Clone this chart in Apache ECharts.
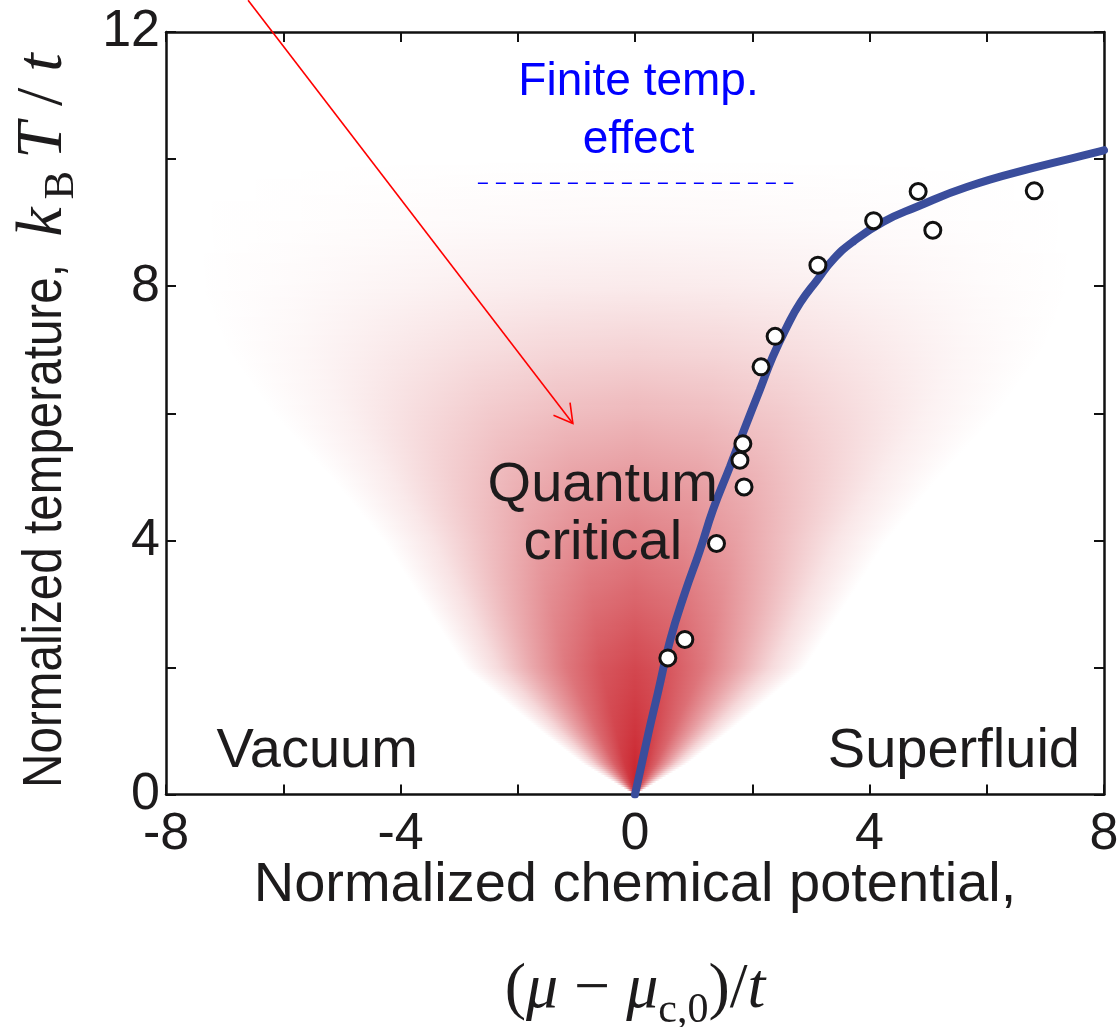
<!DOCTYPE html>
<html>
<head>
<meta charset="utf-8">
<script src="https://cdn.jsdelivr.net/npm/echarts@6/dist/echarts.min.js"></script>
<style>
  html, body { margin: 0; padding: 0; background: #ffffff; }
  #chart { width: 1118px; height: 1027px; }
</style>
</head>
<body>
<div id="chart"></div>
<script>
// Measured transition points (normalized chemical potential, normalized temperature)
const pointMu = [0.56, 0.85, 1.39, 1.86, 1.79, 1.84, 2.15, 2.39, 3.12, 4.07, 4.83, 5.08, 6.81];
const pointT  = [2.15, 2.44, 3.95, 4.84, 5.26, 5.52, 6.73, 7.21, 8.33, 9.03, 9.49, 8.88, 9.50];

// Phase boundary curve
const curveMu = [0, 0.23, 0.39, 0.60, 0.85, 1.11, 1.33, 1.62, 1.84, 2.13, 2.35, 2.59, 2.82, 3.11, 3.38, 3.72, 4.23, 4.81, 5.66, 6.79, 7.93, 8.0];
const curveT  = [0, 0.97, 1.60, 2.43, 3.17, 3.85, 4.48, 5.16, 5.69, 6.37, 6.89, 7.36, 7.74, 8.10, 8.42, 8.70, 9.01, 9.25, 9.56, 9.86, 10.12, 10.14];

// Quantum critical fan: outer half-width and centre opacity versus temperature,
// plus the sideways fall-off of the shading across the fan
const fanT            = [0, 0.5, 1, 2, 3, 4, 5, 6, 7, 8, 9, 10];
const fanHalfWidth    = [0, 0.9, 1.6, 2.9, 3.6, 4.3, 5.2, 6.2, 7.0, 7.5, 7.6, 7.6];
const fanCenterAlpha  = [0.97, 0.93, 0.88, 0.8, 0.68, 0.56, 0.44, 0.31, 0.19, 0.09, 0.03, 0];
const fanSideU        = [0, 0.2, 0.4, 0.6, 0.8, 1];
const fanSideAlpha    = [1, 0.92, 0.74, 0.48, 0.2, 0];

// Annotation arrow (tail, head) and dashed crossover line
const arrowTail = [-6.60, 12.50];
const arrowHead = [-1.06, 5.84];
const dashMu = [-2.68, 2.70];
const dashT = 9.62;

// Region labels
const regionNames = ['Vacuum', 'Superfluid', 'Quantum\ncritical'];
const regionMu    = [-5.42, 5.44, -0.55];
const regionT     = [0.67, 0.67, 4.41];
const noteText = 'Finite temp.\neffect';
const noteMu = 0.06;
const noteT = 10.75;

// Axis ticks
const xTicks = { min: -8, max: 8, step: 2, labelEvery: 4 };
const yTicks = { min: 0, max: 12, step: 2, labelEvery: 4 };

const SANS = '"Liberation Sans", Arial, Helvetica, sans-serif';
const SERIF = '"Liberation Serif", "DejaVu Serif", serif';
const INK = '#1d1b1c';
const FAN_RGB = '200,25,35';

const chart = echarts.init(document.getElementById('chart'), null, { renderer: 'canvas' });

const axisLine = { show: true, onZero: false, lineStyle: { color: '#111', width: 2.5 } };
const tick = { show: true, inside: true, length: 10, lineStyle: { color: '#111', width: 2 } };

function tickLabel(every) {
  return function (v) { return (Math.round(v) % every === 0) ? String(v) : ''; };
}

// piecewise-linear lookup in a profile table
function lookup(xs, ys, x) {
  if (x <= xs[0]) return ys[0];
  for (let i = 1; i < xs.length; i++) {
    if (x <= xs[i]) {
      const t = (x - xs[i - 1]) / (xs[i] - xs[i - 1]);
      return ys[i - 1] + t * (ys[i] - ys[i - 1]);
    }
  }
  return ys[ys.length - 1];
}

// shading drawn as thin horizontal strips, each with a symmetric sideways gradient
function renderFan(params, api) {
  const tMax = fanT[fanT.length - 1];
  const y0 = Math.round(api.coord([0, 0])[1]);
  const y1 = Math.round(api.coord([0, tMax])[1]);
  const step = 2;
  const children = [];
  for (let y = y0; y > y1; y -= step) {
    const T = (y0 - (y - step / 2)) / (y0 - y1) * tMax;
    const w = lookup(fanT, fanHalfWidth, T);
    const a0 = lookup(fanT, fanCenterAlpha, T);
    if (w <= 0 || a0 <= 0.002) continue;
    const xl = api.coord([-w, T])[0];
    const xr = api.coord([w, T])[0];
    const stops = [];
    const n = 20;
    for (let i = 0; i <= n; i++) {
      const off = i / n;
      const u = Math.abs(2 * off - 1);
      const a = a0 * lookup(fanSideU, fanSideAlpha, u);
      stops.push({ offset: off, color: 'rgba(' + FAN_RGB + ',' + a.toFixed(4) + ')' });
    }
    children.push({
      type: 'rect',
      shape: { x: xl, y: y - step, width: xr - xl, height: step },
      style: { fill: new echarts.graphic.LinearGradient(0, 0, 1, 0, stops) },
      silent: true
    });
  }
  return { type: 'group', children: children };
}

function renderArrow(params, api) {
  const p0 = api.coord([api.value(0), api.value(1)]);
  const p1 = api.coord([api.value(2), api.value(3)]);
  const ang = Math.atan2(p0[1] - p1[1], p0[0] - p1[0]);
  const L = 21, spread = 0.52;
  const w1 = [p1[0] + L * Math.cos(ang + spread), p1[1] + L * Math.sin(ang + spread)];
  const w2 = [p1[0] + L * Math.cos(ang - spread), p1[1] + L * Math.sin(ang - spread)];
  const st = { stroke: '#ff0000', lineWidth: 1.6, fill: null };
  return {
    type: 'group',
    children: [
      { type: 'line', shape: { x1: p0[0], y1: p0[1], x2: p1[0], y2: p1[1] }, style: st },
      { type: 'polyline', shape: { points: [w1, p1, w2] }, style: st }
    ]
  };
}

const option = {
  backgroundColor: '#ffffff',
  animation: false,
  grid: { left: 166, right: 14, top: 32, bottom: 232.5, containLabel: false, outerBoundsMode: 'none' },
  xAxis: [
    {
      type: 'value', min: xTicks.min, max: xTicks.max, interval: xTicks.step,
      position: 'bottom',
      axisLine: axisLine, axisTick: tick, splitLine: { show: false },
      axisLabel: { formatter: tickLabel(xTicks.labelEvery), fontFamily: SANS, fontSize: 52, color: INK, margin: 14 },
      name: '{a|Normalized chemical potential,}\n{p|(}{m|μ}{p| − }{m|μ}{s|c,0}{p|)/}{m|t}',
      nameLocation: 'middle', nameGap: 56, nameMoveOverlap: false,
      nameTextStyle: {
        rich: {
          a: { fontFamily: SANS, fontSize: 56, color: INK, lineHeight: 70 },
          p: { fontFamily: SERIF, fontSize: 64, color: INK, lineHeight: 140 },
          m: { fontFamily: SERIF, fontStyle: 'italic', fontSize: 64, color: INK, lineHeight: 140 },
          s: { fontFamily: SERIF, fontSize: 42, color: INK, lineHeight: 140, padding: [40, 0, 0, 0] }
        }
      }
    },
    {
      type: 'value', min: xTicks.min, max: xTicks.max, interval: xTicks.step,
      position: 'top',
      axisLine: axisLine, axisTick: tick, splitLine: { show: false },
      axisLabel: { show: false }
    }
  ],
  yAxis: [
    {
      type: 'value', min: yTicks.min, max: yTicks.max, interval: yTicks.step,
      position: 'left',
      axisLine: axisLine, axisTick: tick, splitLine: { show: false },
      axisLabel: { formatter: tickLabel(yTicks.labelEvery), fontFamily: SANS, fontSize: 52, color: INK, margin: 6 }
    },
    {
      type: 'value', min: yTicks.min, max: yTicks.max, interval: yTicks.step,
      position: 'right',
      axisLine: axisLine, axisTick: tick, splitLine: { show: false },
      axisLabel: { show: false }
    }
  ],
  // vertical axis title: condensed sans words followed by the k_B T / t expression
  graphic: [
    {
      type: 'text', x: 46, y: 526, rotation: Math.PI / 2, scaleX: 0.85, silent: true,
      style: {
        text: 'Normalized temperature,', fontFamily: SANS, fontSize: 56, fill: INK,
        align: 'center', verticalAlign: 'middle', textAlign: 'center', textVerticalAlign: 'middle'
      }
    },
    {
      type: 'text', x: 44, y: 145, rotation: Math.PI / 2, silent: true,
      style: {
        text: '{m|k}{s|B}{m|T}{p|/}{m|t}',
        align: 'center', verticalAlign: 'middle', textAlign: 'center', textVerticalAlign: 'middle',
        rich: {
          m: { fontFamily: SERIF, fontStyle: 'italic', fontSize: 66, fill: INK, color: INK, lineHeight: 72, padding: [0, 8, 0, 8] },
          p: { fontFamily: SERIF, fontSize: 66, fill: INK, color: INK, lineHeight: 72, padding: [0, 8, 0, 8] },
          s: { fontFamily: SERIF, fontSize: 43, fill: INK, color: INK, lineHeight: 72, padding: [36, 4, 0, 0] }
        }
      }
    }
  ],
  series: [
    {
      name: 'fan', type: 'custom', renderItem: renderFan, data: [[0, 0]],
      z: 1, silent: true, clip: true
    },
    {
      name: 'crossover', type: 'line',
      data: [[dashMu[0], dashT], [dashMu[1], dashT]],
      symbol: 'none', z: 2, silent: true,
      lineStyle: { color: '#0000ff', width: 1.6, type: [10, 8] }
    },
    {
      name: 'boundary', type: 'line',
      data: curveMu.map(function (m, i) { return [m, curveT[i]]; }),
      smooth: 0.5, symbol: 'none', z: 3, silent: true,
      lineStyle: { color: '#3a4d9c', width: 8, cap: 'round' }
    },
    {
      name: 'measured', type: 'scatter',
      data: pointMu.map(function (m, i) { return [m, pointT[i]]; }),
      symbol: 'circle', symbolSize: 16, z: 4, silent: true,
      itemStyle: { color: '#ffffff', borderColor: '#111', borderWidth: 3, opacity: 1 }
    },
    {
      name: 'regions', type: 'scatter',
      data: regionNames.map(function (n, i) { return { name: n, value: [regionMu[i], regionT[i]] }; }),
      symbolSize: 1, itemStyle: { color: 'rgba(0,0,0,0)', opacity: 1 }, z: 5, silent: true,
      label: {
        show: true, position: 'inside', formatter: '{b}',
        fontFamily: SANS, fontSize: 56, color: INK, lineHeight: 58, align: 'center', verticalAlign: 'middle'
      }
    },
    {
      name: 'note', type: 'scatter',
      data: [{ name: noteText, value: [noteMu, noteT] }],
      symbolSize: 1, itemStyle: { color: 'rgba(0,0,0,0)', opacity: 1 }, z: 5, silent: true,
      label: {
        show: true, position: 'inside', formatter: '{b}',
        fontFamily: SANS, fontSize: 46, color: '#0000ff', lineHeight: 58, align: 'center', verticalAlign: 'middle'
      }
    },
    {
      name: 'arrow', type: 'custom', renderItem: renderArrow,
      data: [[arrowTail[0], arrowTail[1], arrowHead[0], arrowHead[1]]],
      z: 6, silent: true, clip: false
    }
  ]
};

chart.setOption(option);
</script>
</body>
</html>
